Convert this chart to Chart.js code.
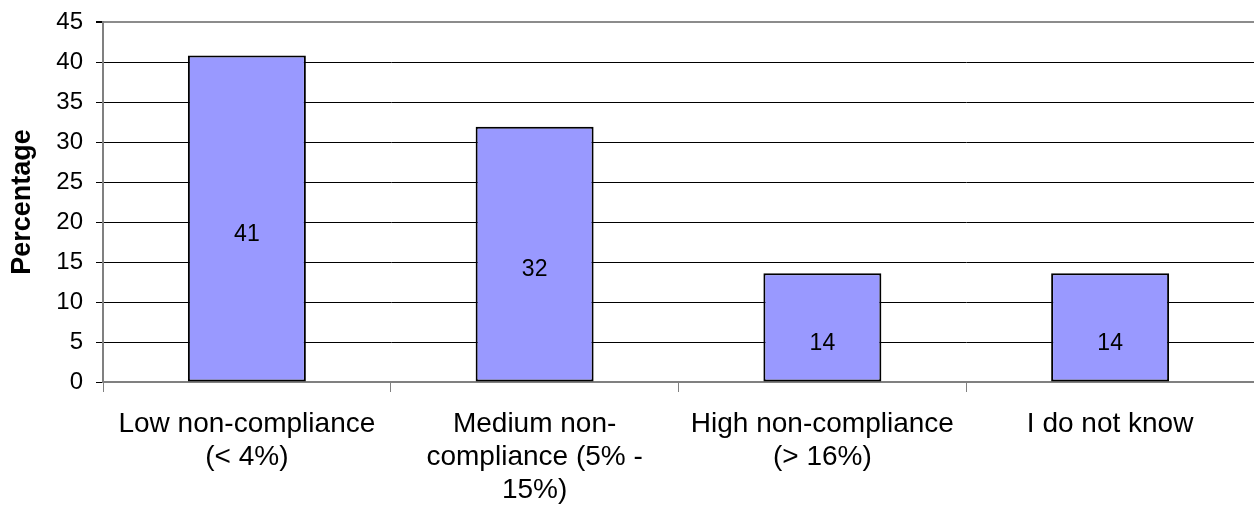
<!DOCTYPE html>
<html>
<head>
<meta charset="utf-8">
<script src="https://cdn.jsdelivr.net/npm/chart.js@4/dist/chart.umd.min.js"></script>
<style>
  html, body { margin: 0; padding: 0; background: #ffffff; }
  #wrap { width: 1254px; height: 514px; position: relative; }
</style>
</head>
<body>
<div id="wrap"><canvas id="c"></canvas></div>
<script>
const categories = [
  ["Low non-compliance", "(< 4%)"],
  ["Medium non-", "compliance (5% -", "15%)"],
  ["High non-compliance", "(> 16%)"],
  ["I do not know"]
];
const percentages = [40.8, 31.9, 13.6, 13.6];
const yTicks = [0, 5, 10, 15, 20, 25, 30, 35, 40, 45];
const yTitle = "Percentage";

const FONT = "'Liberation Sans', Arial, Helvetica, sans-serif";

const barLabels = {
  id: 'barLabels',
  afterDatasetsDraw(chart) {
    const ctx = chart.ctx;
    const meta = chart.getDatasetMeta(0);
    ctx.save();
    ctx.font = "23px " + FONT;
    ctx.fillStyle = "#000000";
    ctx.textAlign = "center";
    ctx.textBaseline = "middle";
    meta.data.forEach((el, i) => {
      const v = chart.data.datasets[0].data[i];
      const y = (el.y + el.base) / 2 + 16;
      ctx.fillText(String(Math.round(v)), el.x, y);
    });
    ctx.restore();
  }
};

new Chart(document.getElementById('c'), {
  type: 'bar',
  data: {
    labels: categories,
    datasets: [{
      data: percentages,
      backgroundColor: '#9999FF',
      borderColor: '#000000',
      borderWidth: 2,
      borderSkipped: false,
      barPercentage: 0.41,
      categoryPercentage: 1.0
    }]
  },
  options: {
    responsive: true,
    maintainAspectRatio: false,
    animation: false,
    layout: { padding: { top: 22, right: -3, bottom: 0, left: 0 } },
    plugins: {
      legend: { display: false },
      tooltip: { enabled: false }
    },
    scales: {
      x: {
        offset: true,
        grid: {
          offset: true,
          drawOnChartArea: false,
          drawTicks: true,
          tickLength: 10,
          color: '#808080',
          lineWidth: 1
        },
        border: { display: true, color: '#808080', width: 2 },
        ticks: {
          color: '#000000',
          font: { family: FONT, size: 28, lineHeight: 1.18 },
          padding: 16,
          maxRotation: 0,
          autoSkip: false
        },
        afterFit(scale) { scale.height = 132; }
      },
      y: {
        min: 0,
        max: 45,
        afterBuildTicks(scale) { scale.ticks = yTicks.map(v => ({ value: v })); },
        grid: {
          color: (c) => (c.tick && c.tick.value === 45) ? '#8c8c8c' : '#000000',
          lineWidth: (c) => (c.tick && c.tick.value === 45) ? 2 : 1,
          tickColor: '#000000',
          tickLength: 7,
          drawTicks: true
        },
        border: { display: true, color: '#808080', width: 2 },
        ticks: {
          color: '#000000',
          font: { family: FONT, size: 24 },
          padding: 13
        },
        title: {
          display: true,
          text: yTitle,
          color: '#000000',
          font: { family: FONT, size: 27, weight: 'bold' },
          padding: { top: 6, bottom: 0 }
        },
        afterFit(scale) {
          scale.width = 103;
          scale.paddingTop = 0;
          scale.paddingBottom = 0;
        }
      }
    }
  },
  plugins: [barLabels]
});
</script>
</body>
</html>
